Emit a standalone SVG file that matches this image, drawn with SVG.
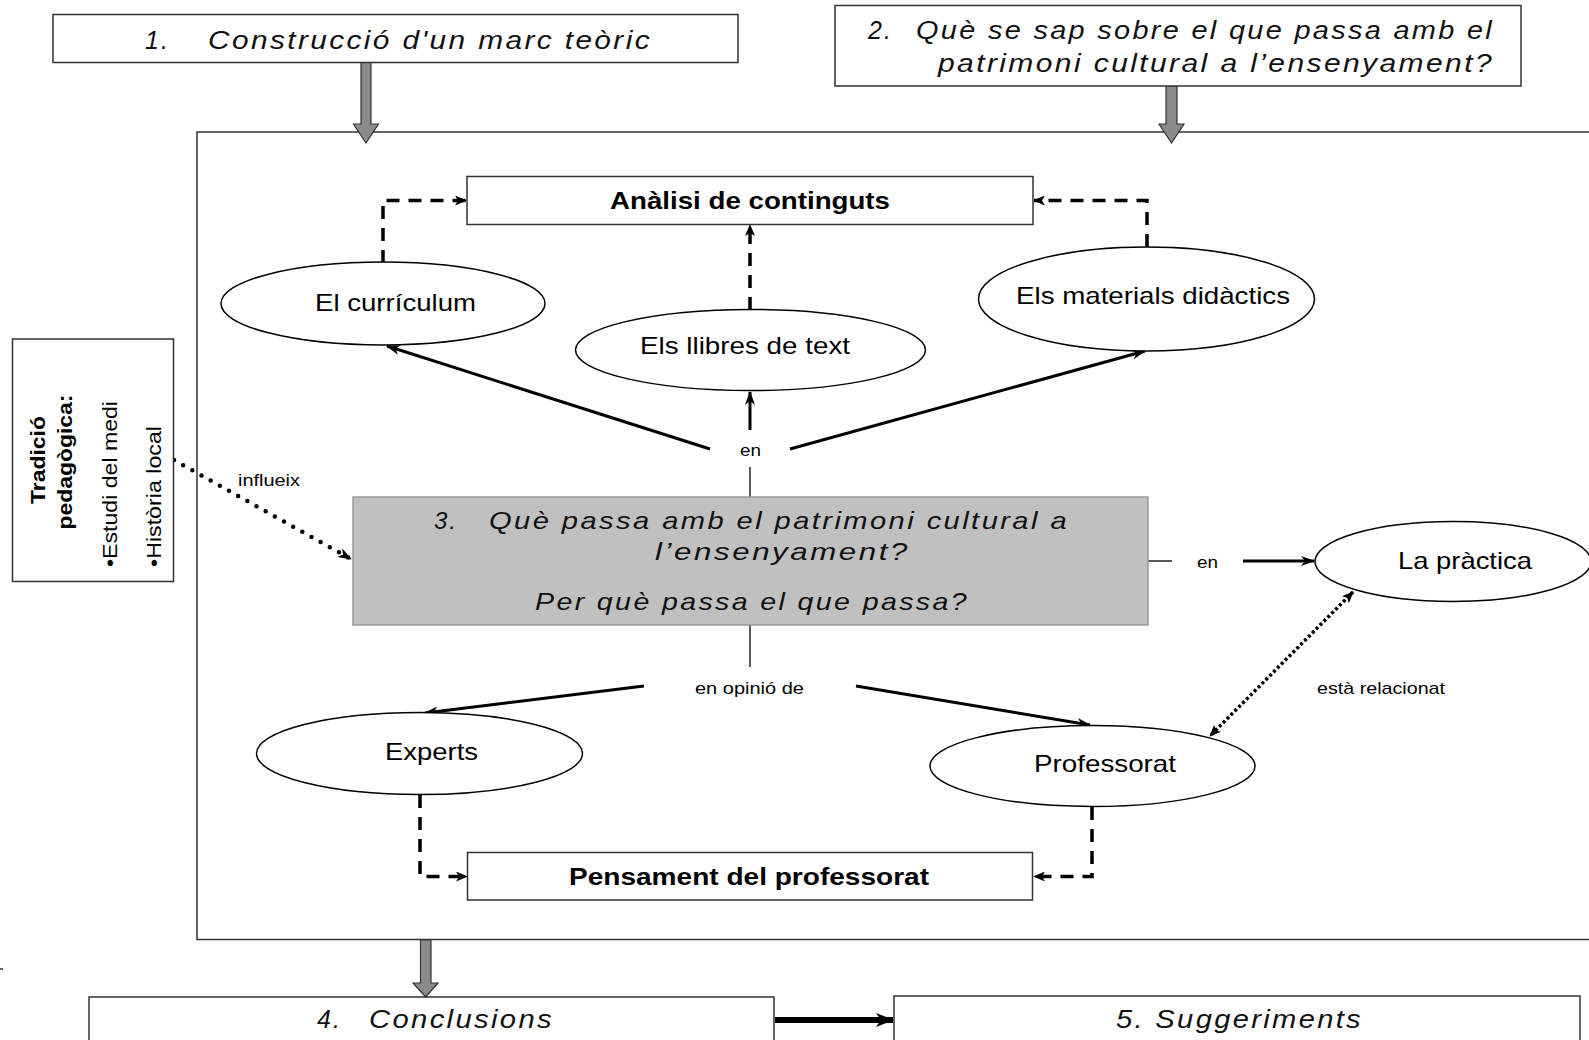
<svg xmlns="http://www.w3.org/2000/svg" width="1589" height="1040" viewBox="0 0 1589 1040">
<defs>
<style>
text{font-family:"Liberation Sans",Arial,sans-serif;fill:#000}
.it{font-style:italic;font-size:25px;letter-spacing:2px;fill:#111}
.it3{font-style:italic;font-size:24px;letter-spacing:2px;fill:#111}
.lbl{font-size:24px}
.bold{font-size:24px;font-weight:bold}
.sm{font-size:17px}
.rot{font-size:21px}
.box{fill:#fff;stroke:#333;stroke-width:1.5}
.ell{fill:#fff;stroke:#000;stroke-width:1.5}
.garrow{fill:#8a8a8a;stroke:#333;stroke-width:1.2}
.solid{fill:none;stroke:#000;stroke-width:3}
.dash{fill:none;stroke:#000;stroke-width:3.5;stroke-dasharray:13 9}
.thin{fill:none;stroke:#000;stroke-width:1.3}
</style>
<marker id="ah" viewBox="0 0 14 10" refX="13" refY="5" markerWidth="14" markerHeight="10" markerUnits="userSpaceOnUse" orient="auto-start-reverse"><path d="M0,0 L14,5 L0,10 L4,5 z" fill="#000"/></marker>
<marker id="ahs" viewBox="0 0 12 10" refX="11" refY="5" markerWidth="12" markerHeight="10" markerUnits="userSpaceOnUse" orient="auto-start-reverse"><path d="M0,0 L12,5 L0,10 L3,5 z" fill="#000"/></marker>
<marker id="ahb" viewBox="0 0 18 14" refX="17" refY="7" markerWidth="18" markerHeight="14" markerUnits="userSpaceOnUse" orient="auto"><path d="M0,0 L18,7 L0,14 L5,7 z" fill="#000"/></marker>
</defs>
<rect width="1589" height="1040" fill="#fff"/>

<g id="main-frame"><rect x="197" y="132" width="1420" height="807.5" class="box"/></g>

<g id="connectors">
<path d="M361,62 H371 V124 H378.5 L366,143 L353.5,124 H361 Z" class="garrow"/>
<path d="M1166,86 H1177 V124 H1184 L1171.5,143 L1159,124 H1166 Z" class="garrow"/>
<path d="M420.5,940 H431 V983 H438 L425.7,997 L413,983 H420.5 Z" class="garrow"/>
<line x1="775" y1="1020" x2="893" y2="1020" stroke="#000" stroke-width="6" marker-end="url(#ahb)"/>
<path d="M383,263 V200.5 H466" class="dash" marker-end="url(#ahs)"/>
<path d="M750,310 V225" class="dash" marker-end="url(#ahs)"/>
<path d="M1147,247 V200.5 H1034" class="dash" marker-end="url(#ahs)"/>
<path d="M420,795 V876.5 H467" class="dash" marker-end="url(#ahs)"/>
<path d="M1092,807 V876.5 H1034" class="dash" marker-end="url(#ahs)"/>
<line x1="750" y1="497" x2="750" y2="467" class="thin"/>
<line x1="750" y1="430" x2="750" y2="392" class="solid" marker-end="url(#ah)"/>
<line x1="710" y1="449" x2="387" y2="346" class="solid" marker-end="url(#ah)"/>
<line x1="790" y1="449" x2="1145" y2="351" class="solid" marker-end="url(#ah)"/>
<line x1="1148" y1="561" x2="1172" y2="561" class="thin"/>
<line x1="1243" y1="561" x2="1314" y2="561" class="solid" marker-end="url(#ah)"/>
<line x1="750" y1="625" x2="750" y2="667" class="thin"/>
<line x1="644" y1="686" x2="425" y2="713" class="solid" marker-end="url(#ah)"/>
<line x1="856" y1="686" x2="1090" y2="725" class="solid" marker-end="url(#ah)"/>
<line x1="174" y1="460" x2="351" y2="559" fill="none" stroke="#000" stroke-width="4.5" stroke-linecap="round" stroke-dasharray="0 10.5" marker-end="url(#ah)"/>
<line x1="1353" y1="592" x2="1210" y2="736" fill="none" stroke="#000" stroke-width="3.5" stroke-dasharray="3 2.5" marker-start="url(#ahs)" marker-end="url(#ahs)"/>
<line x1="0" y1="969" x2="3" y2="969" stroke="#000" stroke-width="1.2"/>
</g>

<g id="n1">
<rect x="53" y="14.5" width="685" height="48" class="box"/>
<text x="145" y="49" class="it">1.</text>
<text x="208" y="49" class="it" textLength="444" lengthAdjust="spacingAndGlyphs">Construcció d'un marc teòric</text>
</g>

<g id="n2">
<rect x="835" y="5.5" width="686" height="80.5" class="box"/>
<text x="868" y="39" class="it">2.</text>
<text x="1494" y="39" class="it" text-anchor="end" textLength="578" lengthAdjust="spacingAndGlyphs">Què se sap sobre el que passa amb el</text>
<text x="1494" y="72" class="it" text-anchor="end" textLength="556" lengthAdjust="spacingAndGlyphs">patrimoni cultural a l’ensenyament?</text>
</g>

<g id="n-analisi">
<rect x="467" y="176.5" width="566" height="48" class="box"/>
<text x="610" y="209" class="bold" textLength="280" lengthAdjust="spacingAndGlyphs">Anàlisi de continguts</text>
</g>

<g id="n-curriculum">
<ellipse cx="383" cy="303.5" rx="162" ry="41.5" class="ell"/>
<text x="315" y="311" class="lbl" textLength="161" lengthAdjust="spacingAndGlyphs">El currículum</text>
</g>

<g id="n-llibres">
<ellipse cx="750.5" cy="350" rx="175" ry="40.5" class="ell"/>
<text x="640" y="354" class="lbl" textLength="210" lengthAdjust="spacingAndGlyphs">Els llibres de text</text>
</g>

<g id="n-materials">
<ellipse cx="1146.5" cy="299" rx="168" ry="52" class="ell"/>
<text x="1016" y="304" class="lbl" textLength="274" lengthAdjust="spacingAndGlyphs">Els materials didàctics</text>
</g>

<g id="n-tradicio">
<rect x="12.5" y="339" width="161" height="242.5" class="box"/>
<text transform="translate(45,460) rotate(-90)" class="rot" font-weight="bold" text-anchor="middle" textLength="88" lengthAdjust="spacingAndGlyphs">Tradició</text>
<text transform="translate(72,462) rotate(-90)" class="rot" font-weight="bold" text-anchor="middle" textLength="135" lengthAdjust="spacingAndGlyphs">pedagògica:</text>
<text transform="translate(117,567) rotate(-90)" class="rot" textLength="166" lengthAdjust="spacingAndGlyphs">•Estudi del medi</text>
<text transform="translate(161,567) rotate(-90)" class="rot" textLength="141" lengthAdjust="spacingAndGlyphs">•Història local</text>
</g>

<g id="n3">
<rect x="353" y="497" width="795" height="128" fill="#c0c0c0" stroke="#9a9a9a" stroke-width="1.5"/>
<text x="434" y="529" class="it3">3.</text>
<text x="489" y="529" class="it3" textLength="580" lengthAdjust="spacingAndGlyphs">Què passa amb el patrimoni cultural a</text>
<text x="655" y="560" class="it3" textLength="255" lengthAdjust="spacingAndGlyphs">l’ensenyament?</text>
<text x="535" y="610" class="it3" textLength="434" lengthAdjust="spacingAndGlyphs">Per què passa el que passa?</text>
</g>

<g id="n-practica">
<ellipse cx="1453" cy="561.5" rx="138" ry="40" class="ell"/>
<text x="1398" y="569" class="lbl" font-size="25" textLength="134" lengthAdjust="spacingAndGlyphs">La pràctica</text>
</g>

<g id="n-experts">
<ellipse cx="419.5" cy="753.5" rx="163" ry="41" class="ell"/>
<text x="385" y="760" class="lbl" textLength="93" lengthAdjust="spacingAndGlyphs">Experts</text>
</g>

<g id="n-professorat">
<ellipse cx="1092.5" cy="766" rx="162.5" ry="40.5" class="ell"/>
<text x="1034" y="772" class="lbl" textLength="142" lengthAdjust="spacingAndGlyphs">Professorat</text>
</g>

<g id="n-pensament">
<rect x="467.5" y="852.5" width="565" height="47.5" class="box"/>
<text x="569" y="885" class="bold" textLength="360" lengthAdjust="spacingAndGlyphs">Pensament del professorat</text>
</g>

<g id="n4">
<rect x="89" y="997" width="685" height="60" class="box"/>
<text x="317" y="1028" class="it">4.</text>
<text x="369" y="1028" class="it" textLength="185" lengthAdjust="spacingAndGlyphs">Conclusions</text>
</g>

<g id="n5">
<rect x="894" y="996" width="686" height="60" class="box"/>
<text x="1116" y="1028" class="it" textLength="247" lengthAdjust="spacingAndGlyphs">5. Suggeriments</text>
</g>

<g id="labels">
<text x="740" y="456" class="sm" textLength="21" lengthAdjust="spacingAndGlyphs">en</text>
<text x="1197" y="568" class="sm" textLength="21" lengthAdjust="spacingAndGlyphs">en</text>
<text x="695" y="694" class="sm" textLength="109" lengthAdjust="spacingAndGlyphs">en opinió de</text>
<text x="238" y="486" class="sm" textLength="62" lengthAdjust="spacingAndGlyphs">influeix</text>
<text x="1317" y="694" class="sm" textLength="128" lengthAdjust="spacingAndGlyphs">està relacionat</text>
</g>
</svg>
